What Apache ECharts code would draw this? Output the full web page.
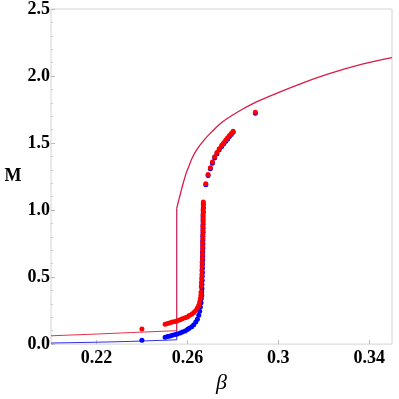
<!DOCTYPE html>
<html>
<head>
<meta charset="utf-8">
<script src="https://cdn.jsdelivr.net/npm/echarts@6/dist/echarts.min.js"></script>
<style>html,body{margin:0;padding:0;background:#fff}#c{width:399px;height:399px}</style>
</head>
<body>
<div id="c"></div>
<script>
// Model curves (lower branches, ending at the jump)
const lowerBeta = [0.2, 0.22, 0.235, 0.2553];
const redLowerM = [0.062, 0.075, 0.086, 0.100];
const blueLowerM = [0.008, 0.014, 0.020, 0.032];
const jumpBeta = 0.2553;
const jumpTopM = 1.012;
// Shared upper branch
const upperBeta = [0.2553, 0.2562, 0.2573, 0.2584, 0.2594, 0.2606, 0.2620, 0.2642, 0.2672, 0.2708, 0.2752, 0.2796, 0.2840, 0.2884, 0.2921, 0.3008, 0.3117, 0.3228, 0.3373, 0.35];
const upperM = [1.012, 1.074, 1.147, 1.215, 1.272, 1.325, 1.385, 1.452, 1.520, 1.585, 1.655, 1.705, 1.750, 1.790, 1.820, 1.882, 1.955, 2.020, 2.090, 2.138];

// Red simulation points
const redBeta = [0.2400,
  0.2502, 0.2513, 0.2524, 0.2534, 0.2546, 0.2556, 0.2568, 0.2578, 0.2590, 0.2600, 0.2608, 0.2619, 0.2628, 0.2637, 0.2644, 0.2650, 0.2654, 0.2657, 0.2659, 0.2660,
  0.2661, 0.2662, 0.2663, 0.2664, 0.2664, 0.2665, 0.2665, 0.2666, 0.2666, 0.2667, 0.2667, 0.2667, 0.2668, 0.2668, 0.2668, 0.2668, 0.2669, 0.2669, 0.2669, 0.2669, 0.2670, 0.2670,
  0.2681, 0.2691, 0.2701, 0.2710, 0.2720, 0.2730, 0.2740, 0.2751, 0.2760, 0.2769, 0.2777, 0.2785, 0.2793, 0.2801, 0.2899];
const redM = [0.112,
  0.149, 0.154, 0.159, 0.164, 0.169, 0.174, 0.181, 0.189, 0.196, 0.203, 0.213, 0.222, 0.235, 0.250, 0.269, 0.289, 0.314, 0.338, 0.363, 0.387,
  0.43, 0.46, 0.49, 0.52, 0.55, 0.58, 0.61, 0.64, 0.67, 0.70, 0.73, 0.76, 0.79, 0.82, 0.85, 0.88, 0.91, 0.94, 0.97, 1.00, 1.03, 1.06,
  1.196, 1.265, 1.316, 1.358, 1.397, 1.429, 1.458, 1.483, 1.502, 1.522, 1.539, 1.557, 1.571, 1.588, 1.730];

// Blue simulation points
const blueBeta = [0.2400,
  0.2502, 0.2513, 0.2524, 0.2534, 0.2546, 0.2556, 0.2568, 0.2578, 0.2590, 0.2600, 0.2608, 0.2619, 0.2628, 0.2637, 0.2644, 0.2650, 0.2654, 0.2657, 0.2660, 0.2661, 0.2663, 0.2663,
  0.2664, 0.2664, 0.2665, 0.2665, 0.2666, 0.2666, 0.2666, 0.2667, 0.2667, 0.2667, 0.2668, 0.2668, 0.2668, 0.2668, 0.2669, 0.2669, 0.2669, 0.2669, 0.2669, 0.2670, 0.2670, 0.2670,
  0.2681, 0.2691, 0.2701, 0.2710, 0.2720, 0.2730, 0.2740, 0.2751, 0.2760, 0.2769, 0.2777, 0.2785, 0.2793, 0.2801, 0.2899];
const blueM = [0.029,
  0.051, 0.057, 0.061, 0.066, 0.071, 0.076, 0.083, 0.090, 0.098, 0.108, 0.118, 0.130, 0.145, 0.164, 0.186, 0.215, 0.245, 0.277, 0.309, 0.338, 0.363, 0.388,
  0.415, 0.445, 0.475, 0.505, 0.535, 0.565, 0.595, 0.625, 0.655, 0.685, 0.715, 0.745, 0.775, 0.805, 0.835, 0.865, 0.895, 0.925, 0.955, 0.985, 1.015, 1.045,
  1.188, 1.257, 1.308, 1.350, 1.389, 1.421, 1.450, 1.475, 1.494, 1.514, 1.531, 1.549, 1.563, 1.580, 1.722];

const xLabels = [0.22, 0.26, 0.3, 0.34];
const yLabels = [0, 0.5, 1, 1.5, 2, 2.5];

function zip(a, b) { return a.map((v, i) => [v, b[i]]); }
const redLow = zip(lowerBeta, redLowerM).concat([[jumpBeta, jumpTopM]]);
const blueLow = zip(lowerBeta, blueLowerM).concat([[jumpBeta, jumpTopM]]);
const upperLine = zip(upperBeta, upperM);

const labelFont = { fontFamily: 'Liberation Serif', fontWeight: 'bold', fontSize: 18, color: '#000' };

const chart = echarts.init(document.getElementById('c'), null, { renderer: 'canvas' });
chart.setOption({
  animation: false,
  backgroundColor: '#fff',
  grid: { left: 51, right: 7, top: 6, bottom: 53, show: true, borderColor: '#d4d4d4', borderWidth: 1, backgroundColor: 'transparent' },
  xAxis: {
    type: 'value', min: 0.2, max: 0.35,
    name: 'β', nameLocation: 'middle', nameGap: 26,
    nameTextStyle: { fontFamily: 'Liberation Serif', fontStyle: 'italic', fontSize: 22, color: '#000' },
    axisLine: { show: false },
    splitLine: { show: false },
    axisTick: { show: true, inside: true, length: 4, lineStyle: { color: '#bbb' }, customValues: xLabels },
    axisLabel: Object.assign({ margin: 5, customValues: xLabels, formatter: v => String(+v.toFixed(2)) }, labelFont)
  },
  yAxis: {
    type: 'value', min: 0, max: 2.5, interval: 0.5,
    name: 'M', nameLocation: 'middle', nameRotate: 0, nameGap: 27,
    nameTextStyle: Object.assign({}, labelFont),
    axisLine: { show: false },
    splitLine: { show: false },
    axisTick: { show: true, inside: true, length: 4, lineStyle: { color: '#bbb' } },
    minorTick: { show: true, splitNumber: 5, length: 2, lineStyle: { color: '#ccc' } },
    axisLabel: Object.assign({ margin: 1, customValues: yLabels, formatter: v => v.toFixed(1) }, labelFont)
  },
  series: [
    { type: 'line', data: blueLow, showSymbol: false, symbol: 'none', lineStyle: { color: '#3030e8', width: 1 }, z: 2 },
    { type: 'line', data: redLow, showSymbol: false, symbol: 'none', lineStyle: { color: '#e8304a', width: 1 }, z: 3 },
    { type: 'line', data: upperLine, smooth: 0.35, showSymbol: false, symbol: 'none', lineStyle: { color: '#d81c48', width: 1.3 }, z: 3 },
    { type: 'scatter', data: zip(blueBeta, blueM), symbolSize: 5, itemStyle: { color: '#0000ff', opacity: 1 }, z: 4 },
    { type: 'scatter', data: zip(redBeta, redM), symbolSize: 5, itemStyle: { color: '#ff0000', opacity: 1 }, z: 5 }
  ]
});
</script>
</body>
</html>
